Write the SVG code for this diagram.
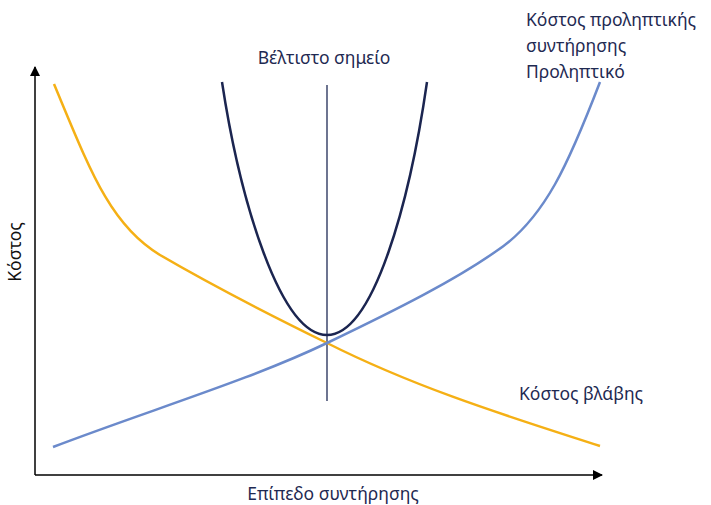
<svg xmlns="http://www.w3.org/2000/svg" width="711" height="505" viewBox="0 0 711 505">
<style>
text{font-family:"Noto Sans","Open Sans",sans-serif;font-size:17.5px;fill:#1f2a52}
.c{fill:none;stroke-width:2.5}
</style>
<defs>
<marker id="ah" markerWidth="10" markerHeight="10" refX="9" refY="5" orient="auto" markerUnits="userSpaceOnUse" viewBox="0 0 10 10"><path d="M0,0 L10,5 L0,10 z" fill="#000"/></marker>
</defs>
<rect width="711" height="505" fill="#fff"/>
<g id="axes" stroke="#000" stroke-width="1.5" fill="none">
<line x1="35" y1="475" x2="35" y2="67" marker-end="url(#ah)"/>
<line x1="35" y1="475" x2="602" y2="475" marker-end="url(#ah)"/>
</g>
<g id="connectors">
<line x1="327" y1="85" x2="327" y2="401" stroke="#1f2a55" stroke-width="1.3"/>
<path id="failure" class="c" stroke="#f5b015" d="M54,84 C90,170 110,225 160,255 C220,290 280,320 327,343 C420,390 520,420 600,446"/>
<path id="preventive" class="c" stroke="#6b8acb" d="M53,447 C150,410 250,380 327,343 C400,308 455,280 495,252 C545,220 570,160 600,82"/>
<path id="total" class="c" stroke="#1b2550" stroke-width="3.5" d="M222,82 C240,200 280,335 327,335 C374,335 410,200 427,82"/>
</g>
<g id="labels">
<text x="324" y="64" text-anchor="middle">Βέλτιστο σημείο</text>
<text x="526" y="26">Κόστος προληπτικής</text>
<text x="526" y="52">συντήρησης</text>
<text x="526" y="78">Προληπτικό</text>
<text x="519" y="400">Κόστος βλάβης</text>
<text x="333" y="500" text-anchor="middle">Επίπεδο συντήρησης</text>
<text transform="translate(21,252) rotate(-90)" text-anchor="middle" style="fill:#111">Κόστος</text>
</g>
</svg>
